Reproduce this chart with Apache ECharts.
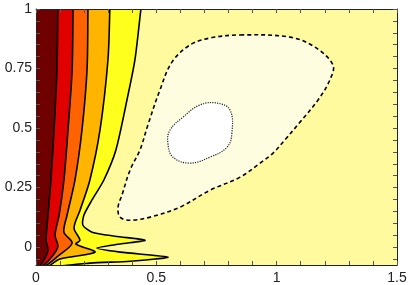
<!DOCTYPE html>
<html>
<head>
<meta charset="utf-8">
<script src="https://cdn.jsdelivr.net/npm/echarts@6/dist/echarts.min.js"></script>
<style>
html,body{margin:0;padding:0;background:#fff;}
#chart{width:410px;height:285px;}
</style>
</head>
<body>
<div id="chart"></div>
<script>
// Axis ranges and ticks
const xRange = [0, 1.5];
const yRange = [-0.075, 1];
const xLabelValues = [0, 0.5, 1, 1.5];
const yLabelValues = [0, 0.25, 0.5, 0.75, 1];
const xTickValues = [0, 0.1, 0.2, 0.3, 0.4, 0.5, 0.6, 0.7, 0.8, 0.9, 1, 1.1, 1.2, 1.3, 1.4, 1.5];
const yTickValues = [-0.05, 0, 0.05, 0.1, 0.15, 0.2, 0.25, 0.3, 0.35, 0.4, 0.45, 0.5, 0.55, 0.6, 0.65, 0.7, 0.75, 0.8, 0.85, 0.9, 0.95, 1];

// Contour boundaries (x, y), top to bottom
const edgeMaroonRed = [[0.092,1.05],[0.091,1.0],[0.087,0.744],[0.075,0.492],[0.062,0.282],[0.050,0.134],[0.042,0.029],[0.050,-0.013],[0.037,-0.046],[0.010,-0.085]];
const edgeRedOrange = [[0.155,1.05],[0.154,1.0],[0.150,0.744],[0.133,0.492],[0.116,0.282],[0.096,0.134],[0.079,0.050],[0.091,0.004],[0.071,-0.034],[0.020,-0.085]];
const edgeOrangeAmber = [[0.217,1.05],[0.216,1.0],[0.212,0.744],[0.191,0.492],[0.162,0.282],[0.129,0.134],[0.116,0.063],[0.150,0.017],[0.091,-0.038],[0.030,-0.085]];
const edgeAmberYellow = [[0.309,1.05],[0.307,1.0],[0.299,0.786],[0.266,0.492],[0.224,0.282],[0.183,0.155],[0.158,0.080],[0.183,0.029],[0.166,0.013],[0.245,-0.021],[0.100,-0.050],[0.045,-0.085]];
const edgeYellowPale = [[0.443,1.05],[0.436,1.0],[0.411,0.786],[0.378,0.618],[0.332,0.408],[0.282,0.282],[0.232,0.197],[0.199,0.134],[0.195,0.092],[0.233,0.063],[0.328,0.046],[0.453,0.029],[0.349,0.013],[0.253,-0.004],[0.349,-0.021],[0.548,-0.042],[0.391,-0.059],[0.224,-0.067],[0.080,-0.085]];
const loopPale = [[0.848,0.891],[1.055,0.882],[1.159,0.840],[1.234,0.765],[1.221,0.702],[1.172,0.618],[1.097,0.525],[1.034,0.450],[0.985,0.395],[0.931,0.353],[0.848,0.294],[0.723,0.239],[0.598,0.168],[0.474,0.126],[0.391,0.113],[0.349,0.126],[0.341,0.168],[0.357,0.218],[0.391,0.324],[0.432,0.408],[0.465,0.513],[0.515,0.660],[0.565,0.777],[0.640,0.849],[0.723,0.878]];
const loopWhite = [[0.752,0.605],[0.806,0.576],[0.814,0.479],[0.794,0.420],[0.723,0.378],[0.640,0.353],[0.569,0.378],[0.548,0.437],[0.557,0.492],[0.611,0.546],[0.681,0.597]];
// lowest contour level fills the whole field
const fieldExtent = [[-0.2, -0.2], [1.7, -0.2], [1.7, 1.2], [-0.2, 1.2]];

const colors = {
  pale: '#FFFA9E', veryPale: '#FFFDE0', white: '#FFFFFF', yellow: '#FFFF1E',
  amber: '#FFB400', orange: '#FF6200', red: '#E00000', maroon: '#6E0000'
};

const FONT = 'Liberation Sans';

function leftRegion(edge) {
  return edge.concat([[-0.2, -0.2], [-0.2, 1.2]]);
}

function layer(points, fill, lineStyle, smooth) {
  return {
    type: 'custom', coordinateSystem: 'cartesian2d', clip: true, silent: true, z: 2,
    data: [[0, 0]],
    renderItem: function (params, api) {
      const pts = points.map(p => api.coord(p));
      return {
        type: 'polygon',
        shape: { points: pts, smooth: smooth },
        style: Object.assign({ fill: fill, stroke: '#000', lineWidth: 1.6 }, lineStyle || {})
      };
    }
  };
}

const series = [
  layer(fieldExtent, colors.pale, { lineWidth: 0, stroke: 'none' }, 0),
  layer(leftRegion(edgeYellowPale), colors.yellow, null, 0.25),
  layer(leftRegion(edgeAmberYellow), colors.amber, null, 0.3),
  layer(leftRegion(edgeOrangeAmber), colors.orange, null, 0.3),
  layer(leftRegion(edgeRedOrange), colors.red, null, 0.3),
  layer(leftRegion(edgeMaroonRed), colors.maroon, null, 0.3),
  layer(loopPale, colors.veryPale, { lineDash: [4, 3], lineWidth: 1.6 }, 0.35),
  layer(loopWhite, colors.white, { lineDash: [1.2, 1.2], lineWidth: 1.2, stroke: '#222' }, 0.4)
];

function xAxisDef(pos, labels) {
  return {
    type: 'value', position: pos, min: xRange[0], max: xRange[1], z: 50,
    axisLine: { show: true, onZero: false, lineStyle: { color: '#222', width: 1 } },
    axisTick: { show: true, inside: true, length: 4, customValues: xTickValues, lineStyle: { color: '#555', width: 1 } },
    axisLabel: { show: labels, customValues: xLabelValues, margin: 6, fontFamily: FONT, fontSize: 14, color: '#222', showMinLabel: true, showMaxLabel: true },
    splitLine: { show: false }
  };
}
function yAxisDef(pos, labels) {
  return {
    type: 'value', position: pos, min: yRange[0], max: yRange[1], z: 50,
    axisLine: { show: true, onZero: false, lineStyle: { color: '#222', width: 1 } },
    axisTick: { show: true, inside: true, length: 4, customValues: yTickValues, lineStyle: { color: '#555', width: 1 } },
    axisLabel: { show: labels, customValues: yLabelValues, margin: 4, fontFamily: FONT, fontSize: 14, color: '#222', showMinLabel: true, showMaxLabel: true },
    splitLine: { show: false }
  };
}

const chart = echarts.init(document.getElementById('chart'), null, { renderer: 'canvas' });
chart.setOption({
  animation: false,
  backgroundColor: '#fff',
  grid: { left: 36, right: 13, top: 9, bottom: 20, show: false },
  xAxis: [xAxisDef('bottom', true), xAxisDef('top', false)],
  yAxis: [yAxisDef('left', true), yAxisDef('right', false)],
  series: series
});
</script>
</body>
</html>
